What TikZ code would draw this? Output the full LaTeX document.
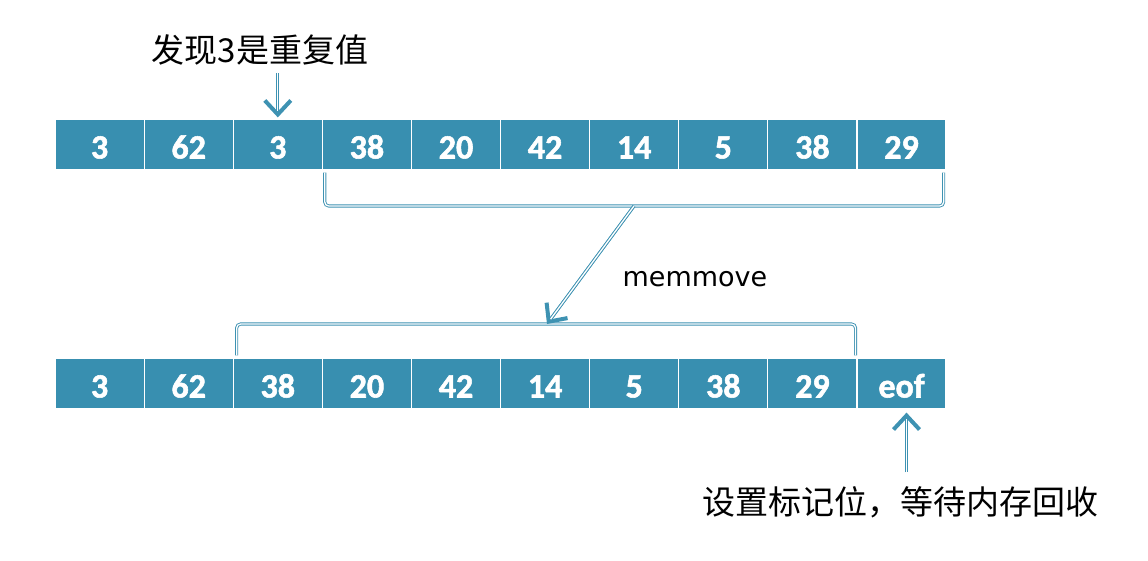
\documentclass[tikz,border=0pt]{standalone}
\usepackage{fontspec}
\usepackage{tikz}
\usetikzlibrary{arrows.meta}
\usetikzlibrary{calc}
\newfontfamily\cjk{Noto Sans CJK SC}
\newfontfamily\numfont{Carlito Bold}[FakeBold=1.6]
\newfontfamily\labfont{DejaVu Sans}
\definecolor{cellblue}{RGB}{56,143,176}
\definecolor{linkblue}{RGB}{62,146,178}

\begin{document}
\begin{tikzpicture}[x=1pt,y=-1pt]
      \newcommand{\darr}[2]{\draw[tiponly] #1 -- #2; \draw[brace, shorten >=6pt] #1 -- #2;}
      \tikzstyle{cell}=[
        rectangle,
        fill=cellblue,
        draw=white,
        line width=1.2pt,
        minimum width=89.1pt,
        minimum height=51pt,
        inner sep=0pt,
        text height=28pt,
        text depth=0pt,
        text=white,
        font=\numfont\fontsize{34}{36}\selectfont,
      ]
      \tikzstyle{brace}=[draw=linkblue, double=white, double distance=1.3pt, line width=0.9pt, rounded corners=4pt]
      \tikzstyle{tiponly}=[draw=linkblue, line width=3pt, -{Straight Barb[length=14pt,width=26pt,line width=4pt]}]
      \tikzstyle{note}=[font=\cjk\fontsize{33}{36}\selectfont, inner sep=0pt]

      \useasboundingbox (0,0) rectangle (1148,560);

      % row before the move
      \node[cell] (c1) at (99.6,144.5) {3};
      \node[cell] (c2) at (188.7,144.5) {62};
      \node[cell] (c3) at (277.8,144.5) {3};
      \node[cell] (c4) at (366.9,144.5) {38};
      \node[cell] (c5) at (456.0,144.5) {20};
      \node[cell] (c6) at (545.1,144.5) {42};
      \node[cell] (c7) at (634.2,144.5) {14};
      \node[cell] (c8) at (723.3,144.5) {5};
      \node[cell] (c9) at (812.4,144.5) {38};
      \node[cell] (c10) at (901.5,144.5) {29};

      % row after the move
      \node[cell] (d1) at (99.6,383.5) {3};
      \node[cell] (d2) at (188.7,383.5) {62};
      \node[cell] (d3) at (277.8,383.5) {38};
      \node[cell] (d4) at (366.9,383.5) {20};
      \node[cell] (d5) at (456.0,383.5) {42};
      \node[cell] (d6) at (545.1,383.5) {14};
      \node[cell] (d7) at (634.2,383.5) {5};
      \node[cell] (d8) at (723.3,383.5) {38};
      \node[cell] (d9) at (812.4,383.5) {29};
      \node[cell] (d10) at (901.5,383.5) {eof};

      \node[note] (dup) at (260,50) {发现3是重复值};
      \node[note] (flag) at (900,502) {设置标记位，等待内存回收};
      \node[font=\labfont\fontsize{27}{30}\selectfont, inner sep=0pt] (mm) at (695,279) {memmove};

      \coordinate (tb) at (634,206);
      \coordinate (bb) at (547,324);

      \draw[brace] ([xshift=3pt,yshift=-2pt]c4.south west) |- (tb) -| ([xshift=-3pt,yshift=-2pt]c10.south east);
      \draw[brace] ([xshift=4pt,yshift=2pt]d3.north west) |- (bb) -| ([xshift=-2pt,yshift=2pt]d9.north east);

      \darr{(tb)}{(bb)}
      \darr{([yshift=-8pt]dup.south -| c3.north)}{([yshift=1pt]c3.north)}
      \darr{([xshift=5pt,yshift=14pt]flag.north -| d10.south)}{([xshift=5pt,yshift=-3pt]d10.south)}
    \end{tikzpicture}
\end{document}
